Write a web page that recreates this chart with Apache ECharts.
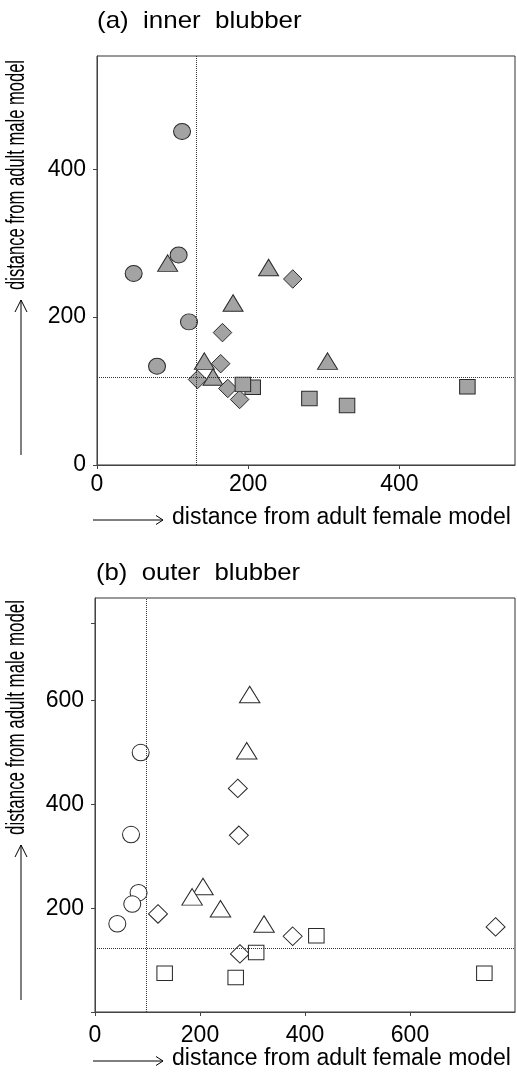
<!DOCTYPE html>
<html lang="en">
<head>
    <meta charset="UTF-8">
    <title>blubber distances</title>
    <script src="https://cdn.jsdelivr.net/npm/echarts@6/dist/echarts.min.js"></script>
    <style>
        body {
            margin: 0;
        }
    </style>
</head>
<body>
<div id="chart" style="width:517px;height:1072px;"></div>
<script>
    // (a) inner blubber: [distance from female model, distance from male model]
    var a_circles = [[112.5, 451], [108, 284], [48.5, 259], [121.7, 193.5], [79.4, 133.6]];
    var a_triangles = [[93.5, 273], [227, 267], [180, 219], [142, 140.5], [305, 140.5], [153.5, 119]];
    var a_diamonds = [[259, 251.5], [166, 179], [163.6, 137], [133, 115.6], [173, 103.5], [188.7, 88.6]];
    var a_squares = [[206, 105], [193, 109], [281, 90], [330.8, 80.5], [490, 105.7]];
    var a_ref_x = 131;
    var a_ref_y = 118;
    var a_ticks = [0, 200, 400];

    // (b) outer blubber
    var b_circles = [[87, 500], [68.6, 342], [83, 230], [71, 208], [42.5, 170]];
    var b_triangles = [[294.6, 612], [289, 503.5], [205.7, 242], [185, 222], [239, 199], [322, 169.7]];
    var b_diamonds = [[272, 431], [274, 340.6], [120, 189], [276, 112], [376.5, 146], [763, 164]];
    var b_squares = [[132.7, 74.7], [268, 66.3], [307, 114.6], [421.6, 146.8], [741.6, 74.7]];
    var b_ref_x = 97;
    var b_ref_y = 123.6;
    var b_x_ticks = [0, 200, 400, 600];
    var b_y_ticks = [0, 200, 400, 600, 750];
    var b_y_labels = [200, 400, 600];

    var FONT = "'Liberation Sans', Arial, sans-serif";

    function axis(grid, max, ticks, labels, margin) {
        return {
            type: 'value', gridIndex: grid, min: 0, max: max,
            splitLine: {show: false},
            axisLine: {show: true, lineStyle: {color: '#444', width: 1}},
            axisTick: {show: true, length: 4, customValues: ticks, lineStyle: {color: '#444'}},
            axisLabel: {customValues: labels, fontSize: 23, color: '#000', fontFamily: FONT, margin: margin}
        };
    }

    function pts(name, data, symbol, size, idx, fill) {
        return {
            name: name, type: 'scatter', xAxisIndex: idx, yAxisIndex: idx,
            data: data, symbol: symbol, symbolSize: size,
            itemStyle: {color: fill, borderColor: '#2a2a2a', borderWidth: 1, opacity: 1},
            silent: true
        };
    }

    function refLines(s, rx, ry) {
        s.markLine = {
            silent: true, symbol: ['none', 'none'], label: {show: false},
            lineStyle: {type: 'dotted', color: '#333', width: 1},
            data: [{xAxis: rx}, {yAxis: ry}]
        };
        return s;
    }

    // arrow + horizontal axis title
    function xTitle(y, txt) {
        return [
            {type: 'line', shape: {x1: 93, y1: y, x2: 163, y2: y}, style: {stroke: '#000', lineWidth: 1}},
            {type: 'polyline', shape: {points: [[156, y - 4.5], [163, y], [156, y + 4.5]]},
                style: {stroke: '#000', fill: null, lineWidth: 1}},
            {type: 'text', x: 172, y: y - 2,
                style: {text: txt, font: '23px ' + FONT, fill: '#000', align: 'left', verticalAlign: 'middle'}}
        ];
    }

    // arrow + vertical axis title (reads bottom to top, condensed)
    function yTitle(x, bottom, arrowBottom, txt, len) {
        return [
            {type: 'line', shape: {x1: 21, y1: arrowBottom, x2: 21, y2: bottom + 10}, style: {stroke: '#000', lineWidth: 1}},
            {type: 'polyline', shape: {points: [[15, bottom + 22], [21, bottom + 10], [27, bottom + 22]]},
                style: {stroke: '#000', fill: null, lineWidth: 1}},
            {type: 'text', x: x, y: bottom, rotation: Math.PI / 2, scaleX: len / (13.894 * 25),
                style: {text: txt, font: '25px ' + FONT, fill: '#000', align: 'left', verticalAlign: 'middle'}}
        ];
    }

    var chart = echarts.init(document.getElementById('chart'));

    var graphics = [
        {type: 'text', x: 97, y: 21, scaleX: 1.08,
            style: {text: '(a)  inner  blubber', font: '24px ' + FONT, fill: '#000', verticalAlign: 'middle'}},
        {type: 'text', x: 96, y: 573, scaleX: 1.07,
            style: {text: '(b)  outer  blubber', font: '24px ' + FONT, fill: '#000', verticalAlign: 'middle'}}
    ];
    graphics = graphics.concat(xTitle(520, 'distance from adult female model'));
    graphics = graphics.concat(xTitle(1061, 'distance from adult female model'));
    graphics = graphics.concat(yTitle(17, 290, 455, 'distance from adult male model', 230));
    graphics = graphics.concat(yTitle(17, 835, 1000, 'distance from adult male model', 235));

    var option = {
        animation: false,
        backgroundColor: '#fff',
        grid: [
            {left: 97, top: 56, width: 418, height: 409, show: true, borderColor: '#333', borderWidth: 1, backgroundColor: 'transparent'},
            {left: 95, top: 598, width: 420, height: 414, show: true, borderColor: '#333', borderWidth: 1, backgroundColor: 'transparent'}
        ],
        xAxis: [
            axis(0, 553, a_ticks, a_ticks, 8),
            axis(1, 800, b_x_ticks, b_x_ticks, 12)
        ],
        yAxis: [
            axis(0, 553, a_ticks, a_ticks, 11),
            axis(1, 798, b_y_ticks, b_y_labels, 11)
        ],
        graphic: graphics,
        series: [
            refLines(pts('a circles', a_circles, 'circle', [17, 16], 0, '#a3a3a3'), a_ref_x, a_ref_y),
            pts('a triangles', a_triangles, 'triangle', [20, 16.5], 0, '#a3a3a3'),
            pts('a diamonds', a_diamonds, 'diamond', [18.5, 18.5], 0, '#a3a3a3'),
            pts('a squares', a_squares, 'rect', [15.5, 14.5], 0, '#a3a3a3'),
            refLines(pts('b circles', b_circles, 'circle', [17, 16.5], 1, '#fff'), b_ref_x, b_ref_y),
            pts('b triangles', b_triangles, 'triangle', [20.5, 16.5], 1, '#fff'),
            pts('b diamonds', b_diamonds, 'diamond', [19, 18.5], 1, '#fff'),
            pts('b squares', b_squares, 'rect', [15.5, 14.5], 1, '#fff')
        ]
    };
    chart.setOption(option);
</script>
</body>
</html>
